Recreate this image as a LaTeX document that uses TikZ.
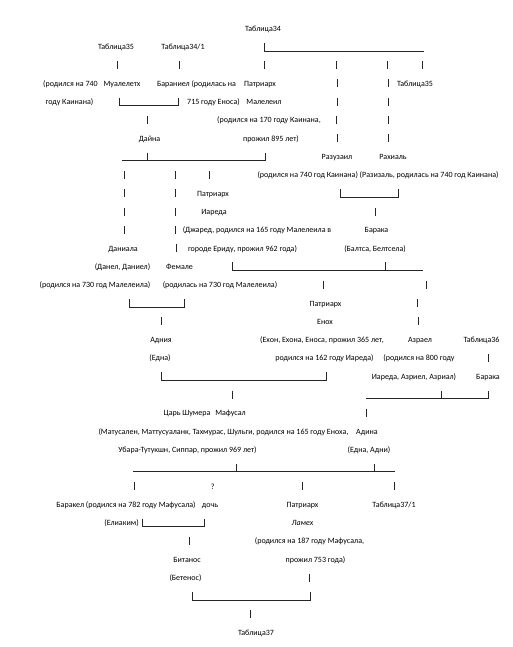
\documentclass[tikz,border=0pt]{standalone}
\usepackage{fontspec}
\setmainfont{Carlito}
\usepackage{tikz}

\begin{document}
\begin{tikzpicture}[
  x=1pt, y=-1pt,
  txt/.style={anchor=base, inner sep=0pt, font=\fontsize{8}{9}\selectfont},
  bar/.style={line width=0.5pt, draw=black!85}
]
\useasboundingbox (0,0) rectangle (512,647);

% text of the table
\node[txt] (t34) at (263,31.5) {Таблица34};
\node[txt] (t35a) at (116,49.8) {Таблица35};
\node[txt] (t341) at (183,49.8) {Таблица34/1};

\node[txt] (mua1) at (70.5,86.4) {(родился на 740};
\node[txt] (mua) at (122,86.4) {Муалелетх};
\node[txt] (bar1) at (196.5,86.4) {Бараниел (родилась на};
\node[txt] (pat1) at (260,86.4) {Патриарх};
\node[txt] (t35b) at (415,86.4) {Таблица35};
\node[txt] (mua2) at (69.5,104.7) {году Каинана)};
\node[txt] (bar2) at (213.5,104.7) {715 году Еноса)};
\node[txt] (mal) at (264,104.7) {Малелеил};
\node[txt] (mal1) at (269,123) {(родился на 170 году Каинана,};
\node[txt] (dai) at (149.5,141.3) {Дайна};
\node[txt] (mal2) at (271,141.3) {прожил 895 лет)};
\node[txt] (raz) at (337,159.6) {Разузаил};
\node[txt] (rah) at (393,159.6) {Рахиаль};
\node[txt] (raz1) at (378,177.9) {(родился на 740 год Каинана) (Разизаль, родилась на 740 год Каинана)};

\node[txt] (pat2) at (213,196.2) {Патриарх};
\node[txt] (iar) at (214,214.5) {Иареда};
\node[txt] (iar1) at (257,232.8) {(Джаред, родился на 165 году Малелеила в};
\node[txt] (bka) at (376.5,232.8) {Барака};
\node[txt] (dan) at (123,251.1) {Даниала};
\node[txt] (iar2) at (242.5,251.1) {городе Ериду, прожил 962 года)};
\node[txt] (bka1) at (375,251.1) {(Балтса, Белтсела)};
\node[txt] (dan1) at (122.5,269.4) {(Данел, Даниел)};
\node[txt] (fem) at (179.5,269.4) {Фемале};
\node[txt] (dan2) at (95,287.7) {(родился на 730 год Малелеила)};
\node[txt] (fem1) at (220,287.7) {(родилась на 730 год Малелеила)};

\node[txt] (pat3) at (325.5,306) {Патриарх};
\node[txt] (eno) at (325,324.3) {Енох};
\node[txt] (adn) at (161,342.6) {Адния};
\node[txt] (eno1) at (322,342.6) {(Ехон, Ехона, Еноса, прожил 365 лет,};
\node[txt] (azr) at (420,342.6) {Азраел};
\node[txt] (t36) at (481.5,342.6) {Таблица36};
\node[txt] (adn1) at (160,360.9) {(Една)};
\node[txt] (eno2) at (324.5,360.9) {родился на 162 году Иареда)};
\node[txt] (azr1) at (419,360.9) {(родился на 800 году};
\node[txt] (azr2) at (414,379.2) {Иареда, Азриел, Азриал)};
\node[txt] (bkb) at (488,379.2) {Барака};

\node[txt] (tsar) at (187,415.8) {Царь Шумера};
\node[txt] (maf) at (230.5,415.8) {Мафусал};
\node[txt] (maf1) at (223.5,434.1) {(Матусален, Маттусуаланк, Тахмурас, Шульги, родился на 165 году Еноха,};
\node[txt] (adi) at (367,434.1) {Адина};
\node[txt] (maf2) at (187.5,452.4) {Убара-Тутукшн, Сиппар, прожил 969 лет)};
\node[txt] (adi1) at (369,452.4) {(Една, Адни)};

\node[txt] (unk) at (212.7,489) {?};
\node[txt] (bkl) at (126,507.3) {Баракел (родился на 782 году Мафусала)};
\node[txt] (doch) at (210,507.3) {дочь};
\node[txt] (pat4) at (302.5,507.3) {Патриарх};
\node[txt] (t371) at (394,507.3) {Таблица37/1};
\node[txt] (bkl1) at (121.5,525.6) {(Елиаким)};
\node[txt, font=\fontsize{8}{9}\selectfont\itshape] (lam) at (302.5,525.6) {Ламех};
\node[txt] (lam1) at (309.5,543.9) {(родился на 187 году Мафусала,};
\node[txt] (bit) at (187,562.2) {Битанос};
\node[txt] (lam2) at (315.5,562.2) {прожил 753 года)};
\node[txt] (bit1) at (185.5,580.5) {(Бетенос)};
\node[txt] (t37) at (256,635.4) {Таблица37};

% bars and underscores
\draw[bar] (264,42.8) -- (264,50.8) -- (424,50.8);
\foreach \bx in {117.3,179,264.3,336.7,387.7,422.3}
  \draw[bar] (\bx,61.1) -- (\bx,69.1);
\foreach \bx in {337,388}
  \draw[bar] (\bx,79.4) -- (\bx,87.4);
\draw[bar] (119,97.7) |- (178,105.7) -- (178,97.7);
\foreach \bx in {337.5,388}
  \draw[bar] (\bx,97.7) -- (\bx,105.7);
\foreach \bx in {147.7,336,388}
  \draw[bar] (\bx,116) -- (\bx,124);
\foreach \bx in {337,388}
  \draw[bar] (\bx,134.3) -- (\bx,142.3);
\draw[bar] (122,160.6) -- (265,160.6) -- (265,152.6);
\draw[bar] (147.7,152.6) -- (147.7,160.6);
\foreach \bx in {124,175,209}
  \draw[bar] (\bx,170.9) -- (\bx,178.9);
\foreach \bx in {124,175}
  \draw[bar] (\bx,189.2) -- (\bx,197.2);
\draw[bar] (340.7,189.2) |- (398.3,197.2) -- (398.3,189.2);
\foreach \bx in {124,175,375}
  \draw[bar] (\bx,207.5) -- (\bx,215.5);
\foreach \bx in {124,175}
  \draw[bar] (\bx,225.8) -- (\bx,233.8);
\draw[bar] (176,244.1) -- (176,252.1);
\draw[bar] (232.7,262.4) |- (423,270.4);
\draw[bar] (385,262.4) -- (385,270.4);
\foreach \bx in {323,426}
  \draw[bar] (\bx,280.7) -- (\bx,288.7);
\draw[bar] (129,299) |- (184,307) -- (184,299);
\draw[bar] (417.7,299) -- (417.7,307);
\foreach \bx in {161.7,418}
  \draw[bar] (\bx,317.3) -- (\bx,325.3);
\draw[bar] (488,353.9) -- (488,361.9);
\draw[bar] (161.7,372.2) |- (326,380.2) -- (326,372.2);
\draw[bar] (232.7,390.5) -- (232.7,398.5);
\draw[bar] (366,398.5) -- (488,398.5) -- (488,390.5);
\draw[bar] (441.7,390.5) -- (441.7,398.5);
\draw[bar] (366.7,408.8) -- (366.7,416.8);
\draw[bar] (133,471.7) -- (395,471.7);
\foreach \bx in {236,374}
  \draw[bar] (\bx,463.7) -- (\bx,471.7);
\foreach \bx in {134,302,394.3}
  \draw[bar] (\bx,482) -- (\bx,490);
\draw[bar] (142,518.6) |- (204.7,526.6) -- (204.7,518.6);
\draw[bar] (189,536.9) -- (189,544.9);
\draw[bar] (309.3,573.5) -- (309.3,581.5);
\draw[bar] (192,591.8) |- (310,599.8) -- (310,591.8);
\draw[bar] (250.7,610.1) -- (250.7,618.1);
\end{tikzpicture}
\end{document}
